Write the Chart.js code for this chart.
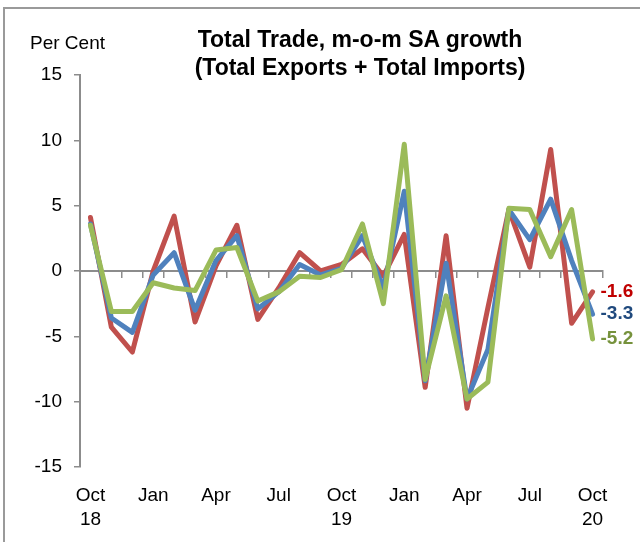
<!DOCTYPE html>
<html><head><meta charset="utf-8">
<script src="https://cdn.jsdelivr.net/npm/chart.js@4.4.1/dist/chart.umd.min.js"></script>
<style>
html,body{margin:0;padding:0;background:#fff;}
#wrap{position:relative;width:640px;height:542px;overflow:hidden;background:#fff;}
#frame{position:absolute;left:3px;top:7px;width:700px;height:600px;border-left:2px solid #9a9a9a;border-top:2px solid #9a9a9a;}
#title{position:absolute;left:110px;width:500px;top:25px;text-align:center;font:bold 23px "Liberation Sans",Arial,sans-serif;line-height:28px;color:#000;}
#unit{position:absolute;left:30px;top:32px;font:19px "Liberation Sans",Arial,sans-serif;color:#000;}
canvas{position:absolute;left:0;top:0;}
</style></head>
<body><div id="wrap">
<div id="frame"></div>
<canvas id="c" width="640" height="542"></canvas>
<div id="title">Total Trade, m-o-m SA growth<br>(Total Exports + Total Imports)</div>
<div id="unit">Per Cent</div>
</div>
<script>
// months Oct 2018 .. Oct 2020
const months = ['Oct 18','Nov 18','Dec 18','Jan 19','Feb 19','Mar 19','Apr 19','May 19','Jun 19','Jul 19','Aug 19','Sep 19','Oct 19','Nov 19','Dec 19','Jan 20','Feb 20','Mar 20','Apr 20','May 20','Jun 20','Jul 20','Aug 20','Sep 20','Oct 20'];
const tickIndex = [0,3,6,9,12,15,18,21,24];
const tickLabels = [['Oct','18'],'Jan','Apr','Jul',['Oct','19'],'Jan','Apr','Jul',['Oct','20']];
const yTicks = [-15,-10,-5,0,5,10,15];
const redSeries   = [4.1,-4.3,-6.2,0.0,4.2,-3.9,0.4,3.5,-3.7,-1.3,1.4,0.0,0.5,1.7,-0.4,2.8,-8.9,2.7,-10.5,-2.8,4.7,0.3,9.3,-4.0,-1.6];
const blueSeries  = [3.6,-3.6,-4.7,-0.3,1.4,-3.0,0.8,2.7,-2.9,-1.6,0.5,-0.3,0.2,2.7,-1.3,6.1,-8.4,0.6,-9.8,-6.0,4.7,2.4,5.5,0.8,-3.3];
const greenSeries = [3.5,-3.1,-3.1,-0.9,-1.3,-1.5,1.6,1.8,-2.3,-1.6,-0.4,-0.5,0.1,3.6,-2.5,9.7,-8.3,-1.9,-9.8,-8.5,4.8,4.7,1.1,4.7,-5.2];
const endLabels = ['-5.2','-3.3','-1.6'];

const toXY = arr => arr.map((v,i)=>({x:i,y:v}));
const FONT = '"Liberation Sans", Arial, sans-serif';
const XMIN = -0.5, XMAX = 24.5;

const endLabelPlugin = {
  id:'endLabels',
  afterDatasetsDraw(chart){
    const ctx = chart.ctx;
    ctx.save();
    ctx.font = 'bold 19px ' + FONT;
    ctx.textAlign = 'left';
    ctx.textBaseline = 'middle';
    chart.data.datasets.forEach((ds,di)=>{
      const meta = chart.getDatasetMeta(di);
      const pt = meta.data[meta.data.length-1];
      ctx.fillStyle = ds.labelColor;
      ctx.fillText(endLabels[di], pt.x + 8, pt.y);
    });
    ctx.restore();
  }
};

new Chart(document.getElementById('c'), {
  type:'line',
  data:{
    datasets:[
      {data:toXY(greenSeries), borderColor:'#9BBB59', labelColor:'#76923C'},
      {data:toXY(blueSeries),  borderColor:'#4F81BD', labelColor:'#1F497D'},
      {data:toXY(redSeries),   borderColor:'#C0504D', labelColor:'#C00000'}
    ].map(d=>Object.assign(d,{borderWidth:5,pointRadius:0,tension:0,fill:false,borderJoinStyle:'round',borderCapStyle:'round'}))
  },
  options:{
    responsive:false, animation:false,
    layout:{padding:{top:75,right:37,left:0,bottom:0}},
    plugins:{legend:{display:false},tooltip:{enabled:false}},
    scales:{
      x:{
        type:'linear', position:'bottom', min:XMIN, max:XMAX,
        afterBuildTicks:s=>{ s.ticks = tickIndex.map(v=>({value:v})); },
        afterFit:s=>{ s.height = 75; },
        grid:{display:false}, border:{display:false},
        ticks:{autoSkip:false,maxRotation:0,padding:9,color:'#000',font:{family:FONT,size:19,lineHeight:1.25},
          callback:(v)=>{ const k = tickIndex.indexOf(v); return k>=0 ? tickLabels[k] : ''; }}
      },
      x2:{
        type:'linear', position:{y:0}, min:XMIN, max:XMAX,
        afterBuildTicks:s=>{ const t=[]; for(let i=-0.5;i<=24.5;i++) t.push({value:i}); s.ticks=t; },
        grid:{drawOnChartArea:false,drawTicks:true,tickLength:6,color:'#8c8c8c',lineWidth:1.5},
        border:{display:true,color:'#8c8c8c',width:2},
        ticks:{display:false}
      },
      y:{
        min:-15, max:15,
        afterBuildTicks:s=>{ s.ticks = yTicks.map(v=>({value:v})); },
        afterFit:s=>{ s.width = 80; },
        grid:{drawOnChartArea:false,drawTicks:true,tickLength:6,color:'#8c8c8c',lineWidth:1.5},
        border:{display:true,color:'#8c8c8c',width:2},
        ticks:{padding:12,color:'#000',font:{family:FONT,size:19}}
      }
    }
  },
  plugins:[endLabelPlugin]
});
</script>
</body></html>
